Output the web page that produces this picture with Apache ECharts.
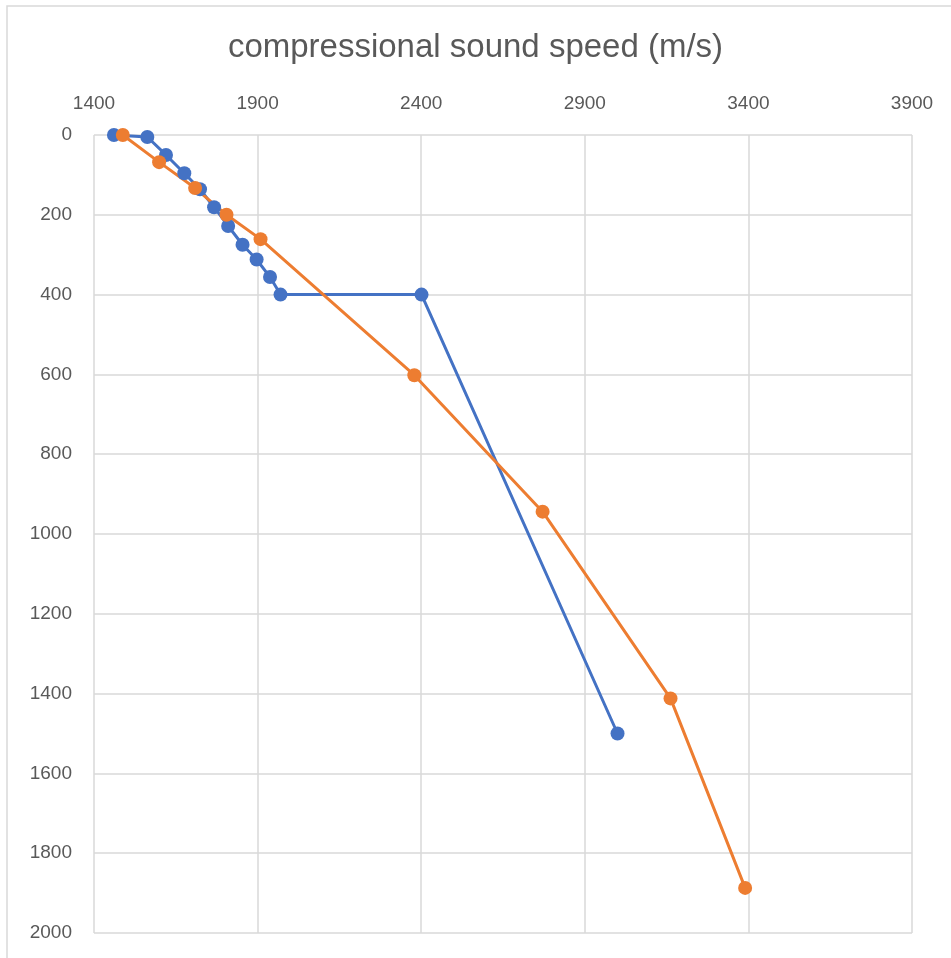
<!DOCTYPE html>
<html>
<head>
<meta charset="utf-8">
<script src="https://cdn.jsdelivr.net/npm/echarts@6/dist/echarts.min.js"></script>
<style>html,body{margin:0;padding:0;background:#fff}#c{width:951px;height:958px}</style>
</head>
<body>
<div id="c"></div>
<script>
const titleText = 'compressional sound speed (m/s)';
const xTicks = [1400, 1900, 2400, 2900, 3400, 3900];
const yTicks = [0, 200, 400, 600, 800, 1000, 1200, 1400, 1600, 1800, 2000];
const blueSpeed = [1461, 1563, 1620, 1676, 1724, 1767, 1810, 1854, 1897, 1938, 1970, 2401, 3000];
const blueDepth = [0, 5, 50, 96, 136, 181, 228, 275, 312, 356, 400, 400, 1500];
const orangeSpeed = [1488, 1599, 1709, 1805, 1909, 2379, 2771, 3162, 3390];
const orangeDepth = [0, 68, 133, 200, 261, 602, 944, 1412, 1887];

const chart = echarts.init(document.getElementById('c'));
const font = 'Liberation Sans';
const grey = '#595959';
chart.setOption({
  animation: false,
  backgroundColor: '#fff',
  title: {
    text: titleText, left: 'center', top: 26,
    textStyle: { fontFamily: font, fontSize: 33, fontWeight: 'normal', color: grey }
  },
  graphic: [{
    type: 'rect', shape: { x: 7, y: 6, width: 980, height: 980 },
    style: { fill: 'none', stroke: '#d9d9d9', lineWidth: 1.5 }, silent: true
  }],
  grid: { left: 94, right: 39, top: 135, bottom: 25 },
  xAxis: {
    type: 'value', position: 'top', min: xTicks[0], max: xTicks[xTicks.length - 1],
    interval: xTicks[1] - xTicks[0],
    axisLine: { show: false }, axisTick: { show: false },
    axisLabel: { fontFamily: font, fontSize: 19, color: grey, margin: 22, formatter: v => String(v) },
    splitLine: { lineStyle: { color: '#d9d9d9', width: 1.5 } }
  },
  yAxis: {
    type: 'value', inverse: true, min: yTicks[0], max: yTicks[yTicks.length - 1],
    interval: yTicks[1] - yTicks[0],
    axisLine: { show: false }, axisTick: { show: false },
    axisLabel: { fontFamily: font, fontSize: 19, color: grey, margin: 22, formatter: v => String(v) },
    splitLine: { lineStyle: { color: '#d9d9d9', width: 1.5 } }
  },
  series: [
    {
      type: 'line', data: blueSpeed.map((v, i) => [v, blueDepth[i]]),
      symbol: 'circle', symbolSize: 14, color: '#4472C4',
      lineStyle: { width: 3, color: '#4472C4' }, itemStyle: { color: '#4472C4' }
    },
    {
      type: 'line', data: orangeSpeed.map((v, i) => [v, orangeDepth[i]]),
      symbol: 'circle', symbolSize: 14, color: '#ED7D31',
      lineStyle: { width: 3, color: '#ED7D31' }, itemStyle: { color: '#ED7D31' }
    }
  ]
});
</script>
</body>
</html>
